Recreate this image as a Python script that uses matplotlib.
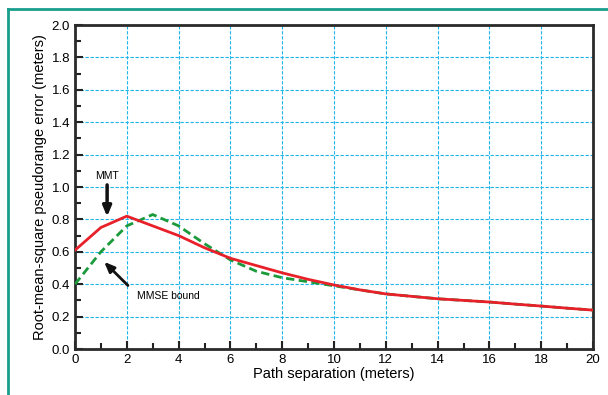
import numpy as np
import matplotlib.pyplot as plt
from matplotlib.lines import Line2D

plt.rcParams['font.family'] = ['Liberation Sans', 'DejaVu Sans']

# Separación de caminos (metros)
separation = [0, 1, 2, 3, 4, 5, 6, 7, 8, 9, 10, 11, 12, 13, 14, 15, 16, 17, 18, 19, 20]

# Error RMS del MMT
mmt_error = [0.61, 0.75, 0.82, 0.76, 0.70, 0.625, 0.56, 0.515, 0.47, 0.43, 0.395,
             0.365, 0.34, 0.325, 0.31, 0.30, 0.29, 0.277, 0.265, 0.252, 0.24]

# Cota MMSE
mmse_bound = [0.40, 0.60, 0.76, 0.83, 0.76, 0.65, 0.55, 0.48, 0.44, 0.415, 0.39,
              0.365, 0.34, 0.325, 0.31, 0.30, 0.29, 0.277, 0.265, 0.252, 0.24]

fig = plt.figure(figsize=(6.08, 3.95), dpi=100)
ax = fig.add_axes([75 / 608, 1 - 349 / 395, (593 - 75) / 608, (349 - 25) / 395])

grid_color = '#1eb4ea'
ax.grid(True, color=grid_color, linestyle=(0, (3, 1.5)), linewidth=0.8)
ax.set_axisbelow(True)

ax.plot(separation, mmse_bound, color='#1a9a3a', linestyle=(0, (3, 1.6)), linewidth=2, zorder=3)
ax.plot(separation, mmt_error, color='#e8202a', linewidth=2, zorder=4)

ax.set_xlim(0, 20)
ax.set_ylim(0, 2.0)
ax.set_xticks(np.arange(0, 21, 2))
ax.set_xticks(np.arange(0, 21, 1), minor=True)
ax.set_yticks(np.arange(0, 2.01, 0.2))
ax.set_yticks(np.arange(0, 2.01, 0.1), minor=True)
ax.yaxis.set_major_formatter(plt.FormatStrFormatter('%.1f'))
ax.tick_params(which='both', direction='in', width=1.5, color='#222222', labelsize=9.5)
ax.tick_params(which='major', length=6)
ax.tick_params(which='minor', length=4)
for s in ax.spines.values():
    s.set_linewidth(2)
    s.set_color('#2a2a2a')

ax.set_xlabel('Path separation (meters)', fontsize=10.5, labelpad=1)
ax.set_ylabel('Root-mean-square pseudorange error (meters)', fontsize=10.5, labelpad=3)

# Anotaciones
ax.text(1.24, 1.07, 'MMT', fontsize=7.5, ha='center', va='center')
ax.annotate('', xy=(1.24, 0.80), xytext=(1.24, 1.03),
            arrowprops=dict(arrowstyle='-|>,head_width=0.25,head_length=0.6', color='#111111', lw=2.5))
ax.text(2.4, 0.33, 'MMSE bound', fontsize=7.5, ha='left', va='center')
ax.annotate('', xy=(1.05, 0.55), xytext=(2.12, 0.38),
            arrowprops=dict(arrowstyle='-|>,head_width=0.25,head_length=0.6', color='#111111', lw=2))

# Marco verde azulado
fig.add_artist(Line2D([8 / 608, 8 / 608], [0, 1 - 9 / 395], color='#1a9e8e', lw=2, transform=fig.transFigure))
fig.add_artist(Line2D([8 / 608, 1], [1 - 9 / 395, 1 - 9 / 395], color='#1a9e8e', lw=2, transform=fig.transFigure))

fig.savefig('out.png', dpi=100)
